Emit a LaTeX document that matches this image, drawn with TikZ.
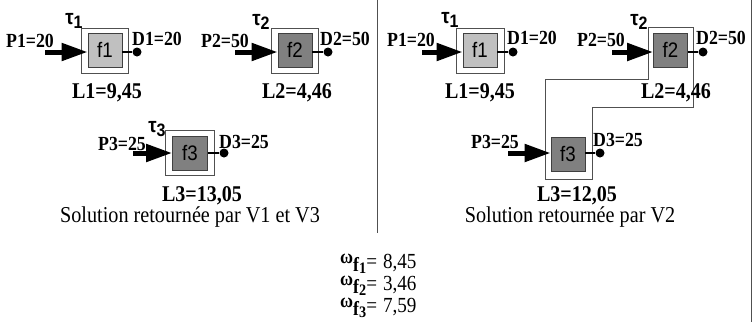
\documentclass[tikz,border=0pt]{standalone}
\usepackage{fontspec}
\setmainfont{Liberation Serif}[FakeStretch=0.89]
\setsansfont{Liberation Sans}[FakeStretch=0.89]
\usetikzlibrary{arrows.meta}
\definecolor{lightfn}{HTML}{C0C0C0}
\definecolor{darkfn}{HTML}{808080}
\definecolor{rimcol}{HTML}{505050}
\newcommand{\tauidx}[1]{τ\raisebox{-4pt}{\fontsize{18}{18}\selectfont #1}}
\newcommand{\omegaf}[2]{\raisebox{5pt}{\fontsize{20}{20}\selectfont\bfseries ω}\raisebox{-3pt}{\fontsize{20}{20}\selectfont\bfseries f\raisebox{-2pt}{\fontsize{16}{16}\selectfont #1}}=\hspace{6pt}#2}

\begin{document}
\begin{tikzpicture}[x=1pt,y=-1pt,
  rim/.style={draw=rimcol,line width=0.8pt,fill=white},
  fn/.style={draw=black!75,line width=0.8pt,minimum width=34pt,minimum height=34pt,inner sep=0pt,font=\sffamily\fontsize{21}{21}\selectfont},
  feed/.style={line width=5pt,-{Triangle[length=26pt,width=17pt]}},
  outdot/.style={circle,fill=black,inner sep=0pt,minimum size=9pt},
  lbl/.style={font=\bfseries\fontsize{20}{20}\selectfont,inner sep=0pt,anchor=base},
  len/.style={font=\bfseries\fontsize{22.5}{22.5}\selectfont,inner sep=0pt,anchor=base},
  tau/.style={font=\sffamily\bfseries\fontsize{21}{21}\selectfont,inner sep=0pt},
  soltext/.style={font=\fontsize{22.7}{22.7}\selectfont,inner sep=0pt,anchor=base},
  weight/.style={font=\fontsize{21.5}{21.5}\selectfont,inner sep=0pt,anchor=base west}]
\useasboundingbox (0,0) rectangle (754,322);
% separators
\draw[draw=rimcol,line width=0.9pt] (377,0) -- (377,233);
\draw[draw=rimcol,line width=0.9pt] (751,0) -- (751,322);

% left: solution of V1 and V3
\draw[rim] (81,28) rectangle (128,73);
\draw[rim] (271,28) rectangle (318,73);
\draw[rim] (165,130) rectangle (214,175);
\node[fn,fill=lightfn] (lf1) at (105,50) {f1};
\node[fn,fill=darkfn] (lf2) at (295,50) {f2};
\node[fn,fill=darkfn,minimum width=35pt] (lf3) at (190,153) {f3};
\coordinate (lp1) at (45,52);
\coordinate (lp2) at (235,52);
\coordinate (lp3) at (133,153);
\draw[feed] (lp1) -- (lf1.west |- lp1);
\draw[feed] (lp2) -- (lf2.west |- lp2);
\draw[feed] (lp3) -- (lf3.west);
\node[outdot] (ld1) at (137,52) {};
\node[outdot] (ld2) at (328,52) {};
\node[outdot] (ld3) at (224,153) {};
\draw[line width=2.5pt] (lf1.east |- ld1) -- (ld1);
\draw[line width=2.5pt] (lf2.east |- ld2) -- (ld2);
\draw[line width=2.5pt] (lf3.east) -- (ld3);
\node[tau] (ltau1) at (74,21) {\tauidx{1}};
\node[tau] (ltau2) at (261,22) {\tauidx{2}};
\node[tau] (ltau3) at (157,129) {\tauidx{3}};
\node[lbl] (lP1) at (30,47) {P1=20};
\node[lbl] (lP2) at (225,47) {P2=50};
\node[lbl] (lP3) at (122,150) {P3=25};
\node[lbl] (lD1) at (157,45) {D1=20};
\node[lbl] (lD2) at (345,45) {D2=50};
\node[lbl] (lD3) at (244,148) {D3=25};
\node[len] (lL1) at (107,98) {L1=9,45};
\node[len] (lL2) at (297,98) {L2=4,46};
\node[len] (lL3) at (202,201) {L3=13,05};
\node[soltext] (lcap) at (190,222) {Solution retournée par V1 et V3};

% right: solution of V2
\draw[rim] (456,28) rectangle (504,73);
\draw[rim] (648,27) -- (693,27) -- (693,107) -- (592,107) -- (592,179)
  -- (545,179) -- (545,79) -- (648,79) -- cycle;
\node[fn,fill=lightfn] (rf1) at (480,50) {f1};
\node[fn,fill=darkfn] (rf2) at (670.5,50) {f2};
\node[fn,fill=darkfn] (rf3) at (568,154) {f3};
\coordinate (rp1) at (422,52);
\coordinate (rp2) at (612,52);
\coordinate (rp3) at (508,153);
\draw[feed] (rp1) -- (rf1.west |- rp1);
\draw[feed] (rp2) -- (rf2.west |- rp2);
\draw[feed] (rp3) -- (rf3.west |- rp3);
\node[outdot] (rd1) at (513,52) {};
\node[outdot] (rd2) at (703,52) {};
\node[outdot] (rd3) at (600,153) {};
\draw[line width=2.5pt] (rf1.east |- rd1) -- (rd1);
\draw[line width=2.5pt] (rf2.east |- rd2) -- (rd2);
\draw[line width=2.5pt] (rf3.east |- rd3) -- (rd3);
\node[tau] (rtau1) at (450,20) {\tauidx{1}};
\node[tau] (rtau2) at (639,22) {\tauidx{2}};
\node[lbl] (rP1) at (411,46) {P1=20};
\node[lbl] (rP2) at (601,46) {P2=50};
\node[lbl] (rP3) at (495,148) {P3=25};
\node[lbl] (rD1) at (532,44) {D1=20};
\node[lbl] (rD2) at (721,44) {D2=50};
\node[lbl] (rD3) at (618,146) {D3=25};
\node[len] (rL1) at (480,98) {L1=9,45};
\node[len] (rL2) at (676,98) {L2=4,46};
\node[len] (rL3) at (577,201) {L3=12,05};
\node[soltext] (rcap) at (570,222) {Solution retournée par V2};

% weights
\node[weight] (w1) at (340,268) {\omegaf{1}{8,45}};
\node[weight] (w2) at (340,290) {\omegaf{2}{3,46}};
\node[weight] (w3) at (340,312) {\omegaf{3}{7,59}};
\end{tikzpicture}
\end{document}
